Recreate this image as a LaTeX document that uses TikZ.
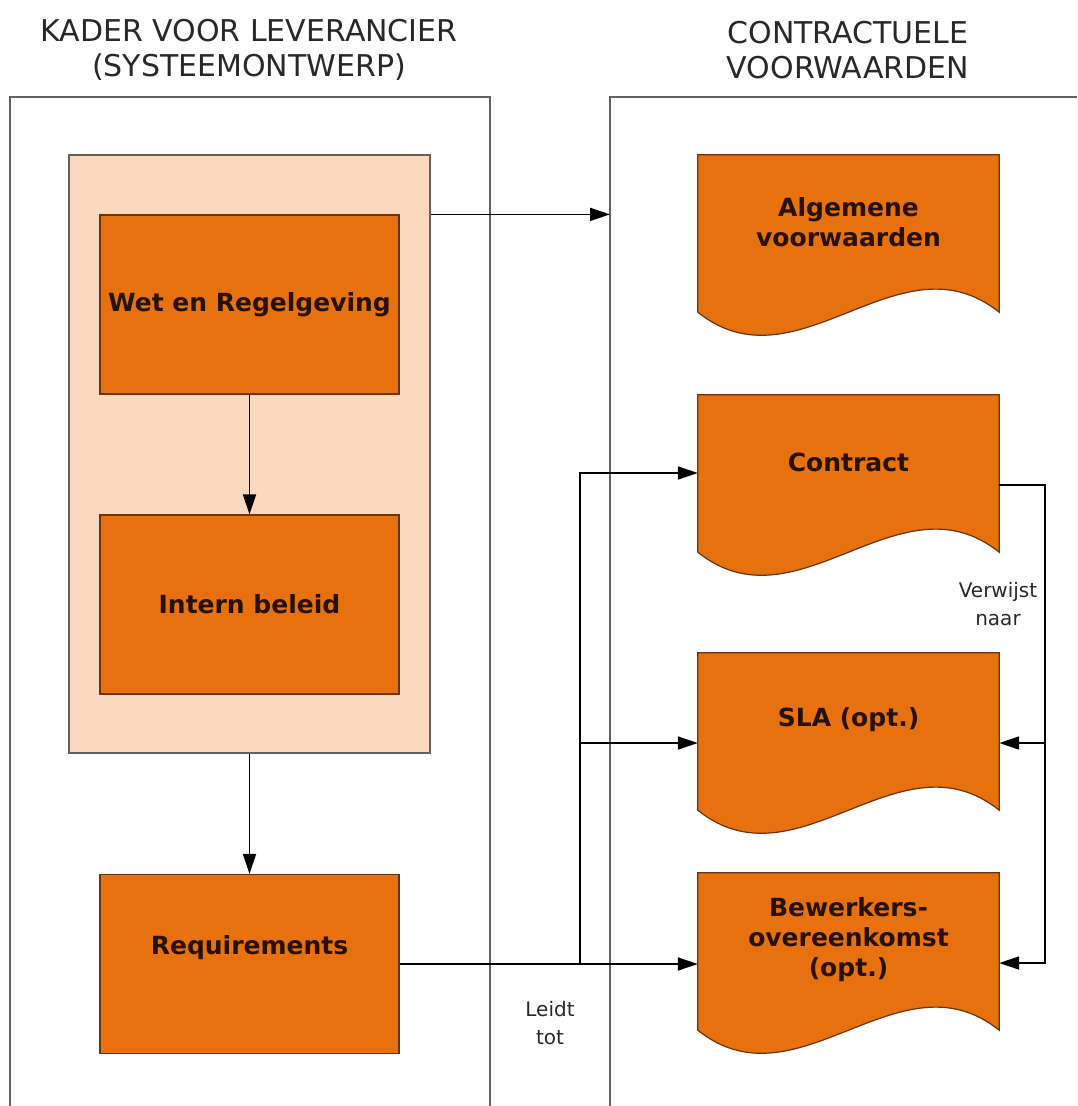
\documentclass[tikz,border=0pt]{standalone}
\usepackage{fontspec}
\setmainfont{DejaVu Sans}
\usepackage{tikz}
\usetikzlibrary{arrows.meta,shapes,backgrounds}
\definecolor{kaderoranje}{RGB}{231,112,15}
\definecolor{kaderperzik}{RGB}{250,217,191}
\definecolor{randbruin}{RGB}{105,52,14}
\definecolor{randgrijs}{RGB}{100,96,92}
\definecolor{tekstdonker}{RGB}{38,18,4}
\definecolor{kopgrijs}{RGB}{40,40,40}

\begin{document}
\begin{tikzpicture}[x=1pt, y=-1pt,
    blok/.style={rectangle, draw=randbruin, line width=1.2pt, fill=kaderoranje, minimum width=299pt, minimum height=179pt, inner sep=0pt, font=\fontsize{25}{30}\selectfont\bfseries, text=tekstdonker},
    document/.style={rectangle, minimum width=301pt, minimum height=180pt, inner sep=0pt},
    doctekst/.style={font=\fontsize{25}{30}\selectfont\bfseries, text=tekstdonker, align=center},
    docvorm/.style={draw=randbruin, line width=1.2pt, fill=kaderoranje},
    pijl/.style={draw=black, line width=1.8pt, -{Triangle[length=20pt,width=13pt]}},
    kaderlijn/.style={draw=randgrijs, line width=2pt},
    kop/.style={font=\fontsize{30}{35}\selectfont, align=center, text=kopgrijs},
    klein/.style={font=\fontsize{20}{28}\selectfont, align=center, text=kopgrijs, inner sep=1pt}]

    \useasboundingbox (0,0) rectangle (1077,1106);

    % koppen
    \node[kop] (kopkader) at (249,50) {KADER VOOR LEVERANCIER\\(SYSTEEMONTWERP)};
    \node[kop] (kopcontract) at (848,50) {CONTRACTUELE\\VOORWAARDEN};

    % kaders
    \draw[kaderlijn] (10,1106) |- (490,97) -- (490,1106);
    \draw[kaderlijn] (610,1106) |- (1077,97);
    \coordinate (rechterkader) at (610,97);

    % linker kolom
    \node[rectangle, draw=randgrijs, fill=kaderperzik, line width=1.2pt, minimum width=361pt, minimum height=598pt](kader) at (249.5,454) {};
    \node[blok](wet) at (249.5,304.5) {Wet en Regelgeving};
    \node[blok](intern) at (249.5,604.5) {Intern beleid};
    \node[blok][label={[doctekst, yshift=16pt]center:Requirements}](req) at (249.5,964) {};

    % rechter kolom
    \node[document][label={[doctekst, yshift=23pt]center:Algemene\\voorwaarden}](algemeen) at (848.5,245) {};
    \node[document][label={[doctekst, yshift=23pt]center:Contract}](contract) at (848.5,485) {};
    \node[document][label={[doctekst, yshift=23pt]center:SLA (opt.)}](sla) at (848.5,743) {};
    \node[document][label={[doctekst, yshift=23pt]center:Bewerkers-\\overeenkomst\\(opt.)}](bewerker) at (848.5,963) {};

    \begin{pgfonlayer}{background}
        \foreach \d in {algemeen,contract,sla,bewerker}
            \filldraw[docvorm] (\d.north west) -- (\d.north east) -- ([yshift=23pt]\d.south east)
                .. controls +(-100,-80) and +(100,80) .. ([yshift=23pt]\d.south west) -- cycle;
    \end{pgfonlayer}

    \coordinate (stam) at (580,0);
    \coordinate (verwijsstam) at (1045,0);
    \coordinate (contractin) at ([yshift=12pt]contract.west);

            \draw[pijl] (wet) -- (intern);
            \draw[pijl] (kader.south) -- (req.north);
            \draw[pijl] (wet.north -| kader.east) -- (wet.north -| rechterkader);
            \draw[pijl] (req.east) -| (stam |- contractin) -- (contractin);
            \draw[pijl] (req.east) -| (stam |- sla.west) -- (sla.west);
            \draw[pijl] (req.east) -- (req.east -| bewerker.west);
            \draw[pijl] (contract.east) -| (verwijsstam |- sla.east) -- (sla.east);
            \draw[pijl] (contract.east) -| (verwijsstam |- bewerker.east) -- (bewerker.east);

    \node[klein](verwijst) at (998,604) {Verwijst\\naar};
    \node[klein](leidt) at (550,1023) {Leidt\\tot};

\end{tikzpicture}
\end{document}
